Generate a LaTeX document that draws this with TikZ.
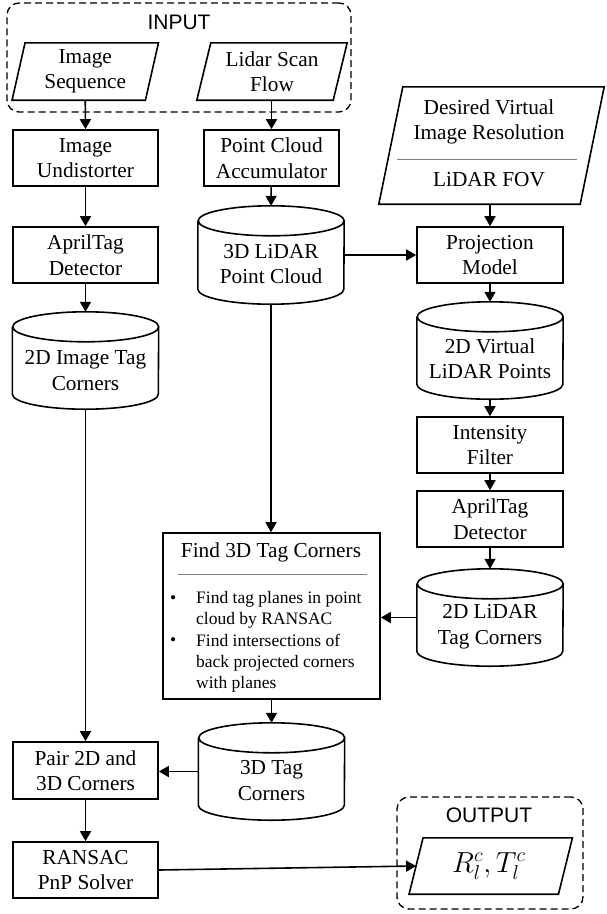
\documentclass[tikz,border=0pt]{standalone}
\usepackage{fontspec}
\setmainfont{Liberation Serif}
\setsansfont{Liberation Sans}
\usetikzlibrary{arrows.meta,calc}
\newcommand{\parab}[2]{\draw[lw] ([xshift=#2]#1.north west) -- ([xshift=#2]#1.north east) -- ([xshift=-#2]#1.south east) -- ([xshift=-#2]#1.south west) -- cycle;}
\newcommand{\cylb}[1]{\draw[lw] ($(#1.north west)+(0,-15)$) -- ($(#1.south west)+(0,15)$) arc[start angle=180,end angle=360,x radius=73pt,y radius=15pt] -- ($(#1.north east)+(0,-15)$) arc[start angle=0,end angle=360,x radius=73pt,y radius=15pt];}
\begin{document}
\begin{tikzpicture}[x=1pt,y=1pt,
  lw/.style={line width=1.6pt},
  txt/.style={inner sep=0pt,align=center,font=\fontsize{21.3}{25.5}\selectfont},
  box/.style={draw,lw,minimum width=145pt,minimum height=56pt,inner sep=0pt,align=center,font=\fontsize{21.3}{25.5}\selectfont},
  ghost/.style={inner sep=0pt,minimum height=57pt},
  cyl/.style={inner sep=0pt,minimum width=146pt,minimum height=97pt},
  dbox/.style={draw,line width=1.3pt,dash pattern=on 7pt off 4pt,rounded corners=12pt,inner sep=0pt},
  arr/.style={lw,-{Triangle[length=10pt,width=11pt]}},
  sep/.style={draw=gray,line width=1pt},
  bul/.style={inner sep=0pt,anchor=base west,font=\fontsize{17.5}{21}\selectfont},
  bultxt/.style={inner sep=0pt,anchor=north west,align=left,font=\fontsize{17.5}{21}\selectfont}
]
\useasboundingbox (0,0) rectangle (606,-914);

% INPUT group
\node[dbox,minimum width=344pt,minimum height=109pt] (inbox) at (179,-57.5) {};
\node[inner sep=0pt,font=\sffamily\fontsize{21}{25}\selectfont] (inlabel) at (179,-22) {INPUT};
\node[ghost,minimum width=133pt] (imgseq) at (85.25,-71.5) {};
\parab{imgseq}{6.5pt}
\node[txt] at (imgseq.center) {Image\\Sequence};
\node[ghost,minimum width=136pt] (lidar) at (272,-71.5) {};
\parab{lidar}{7pt}
\node[txt] at (lidar.center) {Lidar Scan\\Flow};

% left column
\node[box] (undist) at (85.5,-158) {Image\\Undistorter};
\node[box] (april1) at (85.5,-255) {AprilTag\\Detector};
\node[cyl] (imgtag) at (85.5,-360.5) {};
\cylb{imgtag}
\node[txt] at ([yshift=-10pt]imgtag.center) {2D Image Tag\\Corners};
\node[box,minimum height=57pt] (pair) at (85.5,-770.5) {Pair 2D and\\3D Corners};
\node[box] (ransac) at (85.5,-870) {RANSAC\\PnP Solver};

% middle column
\node[box,minimum width=135pt] (accum) at (271.5,-158) {Point Cloud\\Accumulator};
\node[cyl,minimum height=98pt] (lidarpc) at (271,-255) {};
\cylb{lidarpc}
\node[txt] at ([yshift=-9pt]lidarpc.center) {3D LiDAR\\Point Cloud};

\node[draw,lw,minimum width=217pt,minimum height=166pt,inner sep=0pt] (find) at (271.5,-616) {};
\node[txt] (findtitle) at (271,-552) {Find 3D Tag Corners};
\draw[sep] (178,-574) -- (367,-574);
\node[bul] (b1) at (170,-603) {\textbullet};
\node[bultxt] (t1) at (196,-591.5) {Find tag planes in point\\cloud by RANSAC};
\node[bul] (b2) at (170,-645) {\textbullet};
\node[bultxt] (t2) at (196,-633.5) {Find intersections of\\back projected corners\\with planes};

\node[cyl] (tag3d) at (271.5,-771.5) {};
\cylb{tag3d}
\node[txt] at ([yshift=-9pt]tag3d.center) {3D Tag\\Corners};

% right column
\node[ghost,minimum width=201pt,minimum height=117pt] (desired) at (491.5,-145.5) {};
\parab{desired}{12pt}
\node[txt] (d1) at (489,-122) {Desired Virtual\\Image Resolution};
\draw[sep] (397,-159) -- (577,-159);
\node[txt] (d2) at (489,-180) {LiDAR FOV};

\node[box,minimum width=146pt] (proj) at (490,-255) {Projection\\Model};
\node[cyl] (virt) at (490,-350.5) {};
\cylb{virt}
\node[txt] at ([yshift=-8pt]virt.center) {2D Virtual\\LiDAR Points};
\node[box,minimum width=146pt] (intens) at (490,-445) {Intensity\\Filter};
\node[box,minimum width=146pt] (april2) at (490,-519) {AprilTag\\Detector};
\node[cyl] (lidartag) at (490,-617.5) {};
\cylb{lidartag}
\node[txt] at ([yshift=-9pt]lidartag.center) {2D LiDAR\\Tag Corners};

% OUTPUT group
\node[dbox,minimum width=186pt,minimum height=112pt] (outbox) at (490,-853) {};
\node[inner sep=0pt,font=\sffamily\fontsize{21}{25}\selectfont] (outlabel) at (489,-815) {OUTPUT};
\node[ghost,minimum width=149pt,minimum height=56pt] (outpara) at (490.75,-866) {};
\parab{outpara}{7pt}
\node[inner sep=0pt,font=\fontsize{20.74}{25}\selectfont] at (489,-866) {\scalebox{1.4}{$R_l^c,T_l^c$}};

% connectors
\draw[arr] (imgseq.south) -- (undist.north);
\draw[arr] (accum.north |- lidar.south) -- (accum.north);
\draw[arr] (undist) -- (april1);
\draw[arr] (april1) -- (imgtag.north);
\draw[arr] (imgtag.south) -- (pair.north);
\draw[arr] (accum) -- (lidarpc.north);
\draw[arr] (lidarpc.east) -- (proj.west);
\draw[arr] (proj.north |- desired.south) -- (proj.north);
\draw[arr] (proj) -- (virt.north);
\draw[arr] (virt.south) -- (intens.north);
\draw[arr] (intens) -- (april2);
\draw[arr] (april2) -- (lidartag.north);
\draw[arr] (lidartag.west) -- (find.east |- lidartag.west);
\draw[arr] (lidarpc.south) -- (find.north -| lidarpc.south);
\draw[arr] (find.south -| tag3d.north) -- (tag3d.north);
\draw[arr] (tag3d.west) -- (pair.east |- tag3d.west);
\draw[arr] (pair) -- (ransac);
\draw[arr] (ransac.east) -- (outpara.west);
\end{tikzpicture}
\end{document}
